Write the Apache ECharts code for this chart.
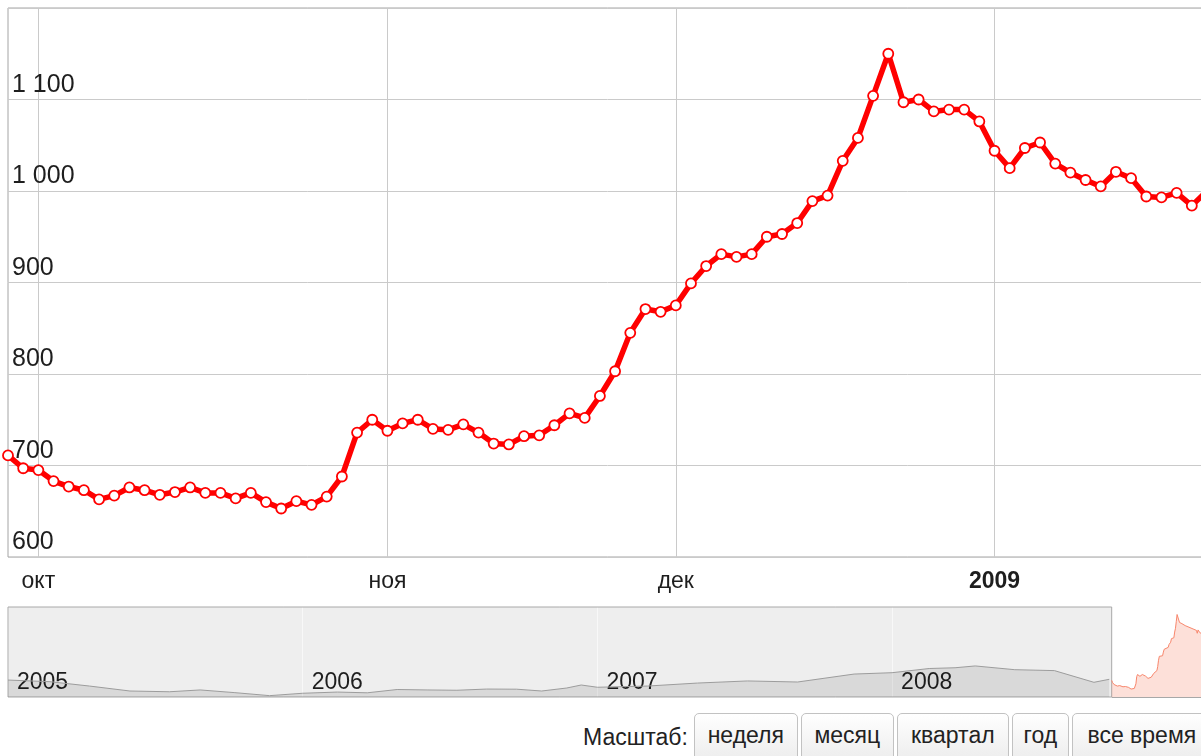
<!DOCTYPE html>
<html>
<head>
<meta charset="utf-8">
<script src="https://cdn.jsdelivr.net/npm/echarts@6/dist/echarts.min.js"></script>
<style>
  html, body { margin: 0; padding: 0; width: 1201px; height: 756px; overflow: hidden; background: #fff; }
  #chart { position: absolute; left: 0; top: 0; width: 1240px; height: 705px; }
  .scale {
    position: absolute; left: 583px; top: 713px; display: flex; align-items: flex-start; white-space: nowrap;
    font-family: 'Liberation Sans', Arial, sans-serif; font-size: 23px; color: #222;
  }
  .scale .caption { line-height: 48px; margin-right: 6px; }
  .scale button {
    font: inherit; color: #222; height: 48px; padding: 0 0 4px; margin-right: 3px; text-align: center;
    border: 1px solid #c2c2c2; border-radius: 5px; background: linear-gradient(#ffffff, #ededed);
  }
</style>
</head>
<body>
<div id="chart"></div>
<div class="scale">
  <span class="caption">Масштаб:</span>
  <button style="width:104px">неделя</button><button style="width:93px">месяц</button><button style="width:112px">квартал</button><button style="width:57px">год</button><button style="width:140px">все время</button>
</div>
<script>
// trading days shown in the main chart
const tradingDays = [
  ['2008-09', [29, 30]],
  ['2008-10', [1, 2, 3, 6, 7, 8, 9, 10, 13, 14, 15, 16, 17, 20, 21, 22, 23, 24, 27, 28, 29, 30, 31]],
  ['2008-11', [3, 5, 6, 7, 10, 11, 12, 13, 14, 17, 18, 19, 20, 21, 24, 25, 26, 27, 28]],
  ['2008-12', [1, 2, 3, 4, 5, 8, 9, 10, 11, 12, 15, 16, 17, 18, 19, 22, 23, 24, 25, 26, 29]],
  ['2009-01', [12, 13, 14, 15, 16, 19, 20, 21, 22, 23, 26, 27, 28, 29, 30]],
]
const dates = tradingDays.flatMap(([m, days]) => days.map(d => m + '-' + String(d).padStart(2, '0')))

const values = [
  711, 697, 695, 683, 677, 673, 663, 667, 676, 673,
  668, 671, 676, 670, 670, 664, 670, 660, 653, 661,
  657, 666, 688, 736, 750, 738, 746, 750, 740, 739,
  745, 736, 724, 723, 732, 733, 744, 757, 752, 776,
  803, 845, 871, 868, 875, 899, 918, 931, 928, 931,
  950, 953, 965, 989, 995, 1033, 1058, 1104, 1150, 1097,
  1100, 1087, 1089, 1089, 1076, 1044, 1025, 1047, 1053, 1030,
  1020, 1012, 1005, 1021, 1014, 994, 993, 998, 984, 1000,
]

// overview strip (2005 .. selection start)
const historyDates = [
  '2005-01-01', '2005-02-22', '2005-04-12', '2005-06-01', '2005-07-20', '2005-08-27', '2005-10-09', '2005-11-21',
  '2006-01-01', '2006-02-13', '2006-03-22', '2006-04-28', '2006-06-04', '2006-07-11', '2006-08-17', '2006-09-23',
  '2006-10-24', '2006-11-24', '2006-12-12', '2007-01-01', '2007-03-04', '2007-05-05', '2007-07-06', '2007-09-06',
  '2007-11-15', '2008-01-01', '2008-02-16', '2008-03-19', '2008-04-13', '2008-06-01', '2008-07-20', '2008-09-07',
  '2008-09-26',
]
const historyValues = [
  713, 702, 673, 640, 635, 647, 629, 609,
  625, 633, 628, 650, 647, 645, 653, 652,
  640, 660, 680, 665, 673, 693, 707, 700,
  753, 762, 790, 795, 807, 782, 776, 698,
  718,
]

const monthNames = ['янв', 'фев', 'мар', 'апр', 'май', 'июн', 'июл', 'авг', 'сен', 'окт', 'ноя', 'дек']

const font = "'Liberation Sans', Arial, sans-serif"
const YEAR = 365.25 * 24 * 3600 * 1000
const first = dates[0]
const last = dates[dates.length - 1]

const isMonthStart = (i) => i > 0 && dates[i].slice(0, 7) !== dates[i - 1].slice(0, 7)
const groupDigits = (v) => String(v).replace(/\B(?=(\d{3})+(?!\d))/g, ' ')

const chart = echarts.init(document.getElementById('chart'), null, { renderer: 'canvas' })

chart.setOption({
  animation: false,
  grid: [
    { left: 8, top: 8, width: 1199, height: 549, show: true, borderColor: '#a4a4a4', borderWidth: 1, backgroundColor: '#fff' },
    { left: 8, top: 607, width: 1203, height: 90, show: true, borderWidth: 0, backgroundColor: '#eeeeee' },
  ],
  xAxis: [
    {
      type: 'category',
      gridIndex: 0,
      data: dates,
      boundaryGap: false,
      axisLine: { show: false },
      axisTick: { show: false },
      axisLabel: {
        interval: (i) => isMonthStart(i),
        margin: 13,
        fontSize: 23,
        fontFamily: font,
        color: '#1e1e1e',
        formatter: (value) => {
          const m = +value.slice(5, 7)
          return m === 1 ? '{b|' + value.slice(0, 4) + '}' : monthNames[m - 1]
        },
        rich: { b: { fontWeight: 'bold', fontSize: 23, fontFamily: font, color: '#1e1e1e' } },
      },
      splitLine: { show: true, interval: (i) => isMonthStart(i), lineStyle: { color: '#cacaca', width: 1 } },
    },
    {
      type: 'time',
      gridIndex: 1,
      min: '2005-01-01',
      max: last,
      minInterval: YEAR,
      maxInterval: YEAR,
      axisLine: { show: false },
      axisTick: { show: false },
      axisLabel: {
        inside: true,
        showMinLabel: true,
        align: 'left',
        verticalAlign: 'bottom',
        margin: 3,
        padding: [0, 0, 0, 9],
        fontSize: 23,
        fontFamily: font,
        color: '#1e1e1e',
        formatter: (v) => {
          const y = new Date(v).getFullYear()
          return y < 2009 ? String(y) : ''
        },
      },
      splitLine: { show: true, lineStyle: { color: '#f8f8f8', width: 1 } },
    },
  ],
  yAxis: [
    {
      type: 'value',
      gridIndex: 0,
      min: 600,
      max: 1200,
      interval: 100,
      axisLine: { show: false },
      axisTick: { show: false },
      axisLabel: {
        inside: true,
        margin: 4,
        showMaxLabel: false,
        verticalAlign: 'bottom',
        padding: [0, 0, 2, 0],
        fontSize: 25,
        fontFamily: font,
        color: '#1e1e1e',
        formatter: groupDigits,
      },
      splitLine: { lineStyle: { color: '#cacaca', width: 1 } },
    },
    { type: 'value', gridIndex: 1, min: 600, max: 1200, show: false },
  ],
  series: [
    {
      type: 'line',
      xAxisIndex: 0,
      yAxisIndex: 0,
      data: values,
      symbol: 'circle',
      symbolSize: 10,
      showAllSymbol: true,
      lineStyle: { color: '#ff0000', width: 5.5 },
      itemStyle: { color: '#ffffff', borderColor: '#ff0000', borderWidth: 1.8 },
      z: 3,
    },
    {
      type: 'line',
      xAxisIndex: 1,
      yAxisIndex: 1,
      data: dates.map((d, i) => [d, values[i]]),
      symbol: 'none',
      lineStyle: { color: '#f8866c', width: 1 },
      areaStyle: { color: 'rgba(248, 120, 90, 0.33)' },
      markArea: {
        silent: true,
        itemStyle: { color: '#ffffff', borderWidth: 0 },
        data: [[{ xAxis: first }, { xAxis: last }]],
      },
      markLine: {
        silent: true,
        symbol: 'none',
        label: { show: false },
        lineStyle: { color: '#a8a8a8', type: 'solid', width: 1 },
        data: [[{ coord: [first, 600] }, { coord: [last, 600] }]],
      },
    },
    {
      type: 'line',
      xAxisIndex: 1,
      yAxisIndex: 1,
      data: historyDates.map((d, i) => [d, historyValues[i]]),
      symbol: 'none',
      lineStyle: { color: '#9c9c9c', width: 1 },
      areaStyle: { color: 'rgba(0, 0, 0, 0.12)' },
      markArea: {
        silent: true,
        itemStyle: { color: 'rgba(0, 0, 0, 0)', borderColor: '#a8a8a8', borderWidth: 1 },
        data: [[{ xAxis: '2005-01-01' }, { xAxis: first }]],
      },
    },
  ],
})
</script>
</body>
</html>
